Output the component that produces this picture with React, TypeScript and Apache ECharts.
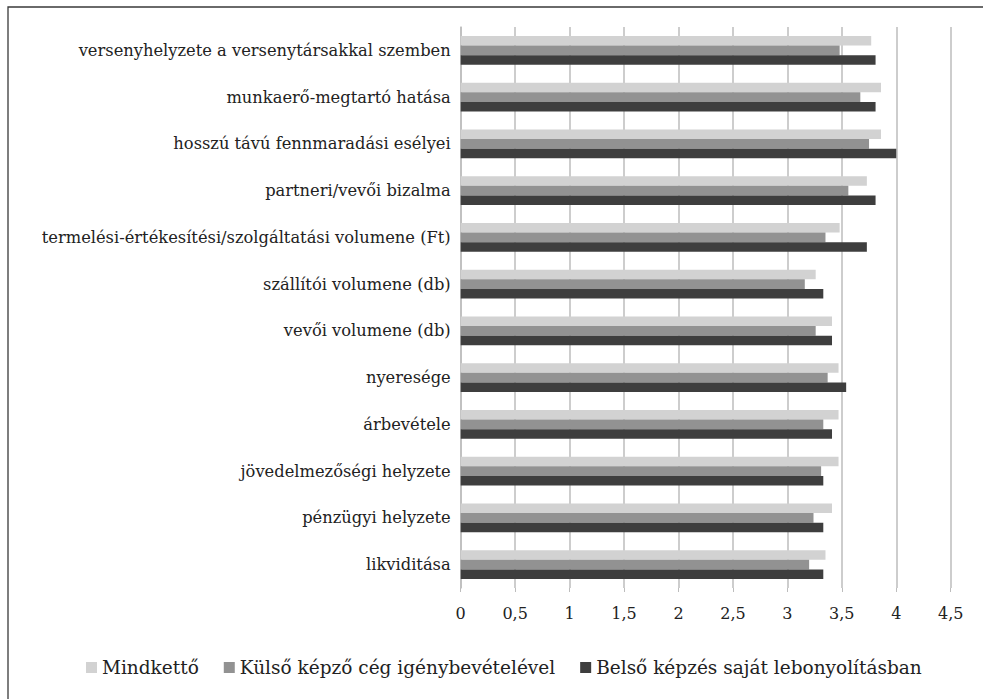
import React, { useEffect, useRef } from "react";
import * as echarts from "echarts";

const categories = [
  "versenyhelyzete a versenytársakkal szemben",
  "munkaerő-megtartó hatása",
  "hosszú távú fennmaradási esélyei",
  "partneri/vevői bizalma",
  "termelési-értékesítési/szolgáltatási volumene (Ft)",
  "szállítói volumene (db)",
  "vevői volumene (db)",
  "nyeresége",
  "árbevétele",
  "jövedelmezőségi helyzete",
  "pénzügyi helyzete",
  "likviditása",
];

const seriesNames = [
  "Mindkettő",
  "Külső képző cég igénybevételével",
  "Belső képzés saját lebonyolításban",
];

const mindketto = [3.77, 3.86, 3.86, 3.73, 3.48, 3.26, 3.41, 3.47, 3.47, 3.47, 3.41, 3.35];
const kulso = [3.48, 3.67, 3.75, 3.56, 3.35, 3.16, 3.26, 3.37, 3.33, 3.31, 3.24, 3.2];
const belso = [3.81, 3.81, 4.0, 3.81, 3.73, 3.33, 3.41, 3.54, 3.41, 3.33, 3.33, 3.33];

const xTicks = { min: 0, max: 4.5, interval: 0.5 };

const colors = ["#d2d2d2", "#929292", "#3e3e3e"];
const FONT = "DejaVu Serif";

export default function App() {
  const ref = useRef<HTMLDivElement>(null);
  useEffect(() => {
    if (!ref.current) return;
    const chart = echarts.init(ref.current, undefined, { renderer: "svg" });
    const values = [mindketto, kulso, belso];
    chart.setOption({
      animation: false,
      backgroundColor: "#ffffff",
      textStyle: { fontFamily: FONT, color: "#222" },
      graphic: [
        {
          type: "rect",
          shape: { x: 8, y: 7, width: 1000, height: 720 },
          style: { fill: "none", stroke: "#3a3a3a", lineWidth: 1.3 },
          silent: true,
        },
      ],
      grid: { left: 460.7, right: 32.3, top: 27, bottom: 111, containLabel: false },
      legend: {
        data: seriesNames,
        left: 86,
        top: 658,
        padding: 0,
        icon: "rect",
        itemWidth: 11,
        itemHeight: 11,
        itemGap: 25,
        textStyle: { fontFamily: FONT, fontSize: 18.5, color: "#222" },
      },
      xAxis: {
        type: "value",
        min: xTicks.min,
        max: xTicks.max,
        interval: xTicks.interval,
        axisLine: { show: false },
        axisTick: { show: true, length: 4, lineStyle: { color: "#bdbdbd" } },
        splitLine: { show: true, lineStyle: { color: "#bdbdbd", width: 1.5 } },
        axisLabel: {
          fontFamily: FONT,
          fontSize: 16,
          color: "#222",
          margin: 17,
          formatter: (v: number) => String(v).replace(".", ","),
        },
      },
      yAxis: {
        type: "category",
        data: categories,
        inverse: true,
        axisLine: { show: true, lineStyle: { color: "#bdbdbd", width: 1.5 } },
        axisTick: { show: false },
        axisLabel: { fontFamily: FONT, fontSize: 16.3, color: "#222", margin: 10 },
      },
      series: seriesNames.map((name, i) => ({
        name,
        type: "bar",
        data: values[i],
        itemStyle: { color: colors[i] },
        barGap: "0%",
        barCategoryGap: "39%",
      })),
    });
    return () => chart.dispose();
  }, []);
  return (
    <div
      ref={ref}
      style={{ position: "absolute", left: 0, top: 0, width: 983, height: 699 }}
    />
  );
}
